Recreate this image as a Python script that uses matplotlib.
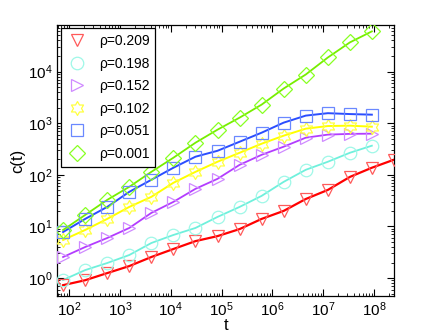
import matplotlib
matplotlib.use('Agg')
import matplotlib.pyplot as plt
import numpy as np

plt.rcParams['font.family'] = ['Liberation Sans', 'DejaVu Sans']

# marker times: t_k ~ 76*e^k
t15 = [76, 207, 562, 1528, 4150, 11280, 30670, 83360, 2.27e5, 6.16e5,
       1.67e6, 4.55e6, 1.24e7, 3.36e7, 9.1e7]
t16 = t15 + [2.48e8]

rho_labels = ['ρ=0.209', 'ρ=0.198', 'ρ=0.152', 'ρ=0.102', 'ρ=0.051', 'ρ=0.001']

c_209 = [0.73, 0.91, 1.25, 1.71, 2.56, 3.66, 5.2, 6.5, 8.9, 14, 20, 34, 51, 91, 137, 196]
c_198 = [0.92, 1.43, 1.96, 2.8, 4.78, 6.84, 9.35, 15.3, 23.9, 39.1, 73, 125, 179, 267, 366]
c_152 = [2.56, 4.0, 5.98, 9.35, 18.3, 29.9, 53.5, 83.6, 156, 244, 350, 523, 600, 620, 626]
c_102 = [5.47, 8.55, 14, 23.9, 37.4, 70, 114, 179, 267, 400, 572, 782, 880, 894, 855]
c_051 = [7.8, 14, 23.9, 46.8, 80, 137, 224, 292, 437, 654, 1023, 1400, 1560, 1500, 1460]
c_001 = [8.55, 16.7, 32.7, 58.5, 114, 214, 418, 748, 1279, 2287, 4677, 8750, 18700, 36600, 59800]

# six-pointed star outline
ang = np.deg2rad(np.arange(12) * 30 + 90)
rad = np.where(np.arange(12) % 2 == 0, 1.0, 0.577)
hexagram = list(zip(rad * np.cos(ang), rad * np.sin(ang)))
hexagram.append(hexagram[0])

series = [
    (t16, c_209, '#ff0000', '#ff5a5a', 'v', 9, 1.6),
    (t15, c_198, '#6ff0dc', '#9ff8e8', 'o', 9, 1.3),
    (t15, c_152, '#b33cff', '#cf8aff', '>', 9, 1.3),
    (t15, c_102, '#ffff00', '#ffff40', hexagram, 10, 1.4),
    (t15, c_051, '#2a4dff', '#6a88ff', 's', 8.5, 1.4),
    (t15, c_001, '#77ee00', '#88ff22', 'D', 8, 1.3),
]

fig = plt.figure(figsize=(4.36, 3.36), dpi=100)
ax = fig.add_axes([0.131, 0.119, 0.773, 0.807])

handles = []
for (t, c, lc, mc, mk, ms, lw), lab in zip(series, rho_labels):
    ax.plot(t, c, '-', color=lc, lw=lw, zorder=2)
    h, = ax.plot(t, c, ls='none', marker=mk, ms=ms, mfc='none', mec=mc,
                 mew=0.9, label=lab, zorder=3)
    handles.append(h)

ax.set_xscale('log')
ax.set_yscale('log')
ax.set_xlim(58, 2.5e8)
ax.set_ylim(0.45, 8e4)
ax.set_xticks([1e2, 1e3, 1e4, 1e5, 1e6, 1e7, 1e8])
ax.set_yticks([1e0, 1e1, 1e2, 1e3, 1e4])
ax.tick_params(which='both', direction='in', top=True, right=True, labelsize=11)
ax.tick_params(which='major', length=5, width=0.8)
ax.tick_params(which='minor', length=2.5, width=0.6)
for s in ax.spines.values():
    s.set_linewidth(0.9)

ax.set_xlabel('t', fontsize=12, labelpad=-1)
ax.set_ylabel('c(t)', fontsize=12, labelpad=2)

leg = ax.legend(handles=handles, loc='upper left', fontsize=10, frameon=True,
                fancybox=False, edgecolor='black', framealpha=1,
                borderpad=0.4, labelspacing=0.62, handletextpad=0.85,
                borderaxespad=0.25, handlelength=1.5)
leg.get_frame().set_linewidth(0.9)

fig.savefig('out.png', dpi=100)
